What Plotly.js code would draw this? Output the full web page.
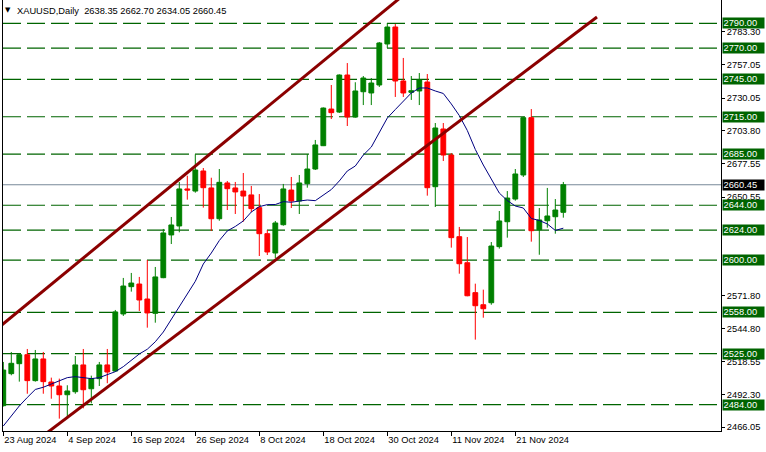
<!DOCTYPE html>
<html><head><meta charset="utf-8">
<script src="https://cdn.plot.ly/plotly-3.0.1.min.js"></script>
<style>html,body{margin:0;padding:0;background:#fff;}#chart{width:766px;height:452px;}</style>
</head><body><div id="chart"></div>
<script>
// ---- Data ----
const openP = [2483.2,2508.9,2516.9,2524.1,2503.3,2520.7,2502.2,2499.0,2492.0,2494.4,
  2515.9,2496.8,2504.9,2515.9,2511.0,2556.8,2578.7,2580.8,2568.8,2557.3,
  2585.9,2620.2,2627.4,2657.1,2655.4,2671.5,2657.9,2633.2,2661.9,2657.9,
  2655.4,2652.3,2642.1,2621.2,2605.7,2628.4,2656.2,2647.4,2661.3,2673.1,
  2691.8,2721.2,2718.8,2748.5,2714.8,2735.1,2734.1,2740.5,2773.4,2787.0,
  2743.7,2734.6,2735.7,2742.9,2658.9,2705.2,2684.3,2618.8,2597.9,2573.9,
  2564.2,2565.8,2610.8,2630.8,2649.0,2668.3,2714.3,2624.4,2631.6,2634.8,2638.35];
const highP = [2518.3,2526.3,2525.5,2528.7,2527.9,2526.3,2505.7,2504.9,2499.6,2523.1,
  2528.7,2507.3,2518.3,2528.7,2560.0,2585.7,2589.7,2586.5,2600.1,2594.5,
  2625.0,2634.6,2662.7,2667.7,2684.9,2673.9,2666.1,2673.1,2663.5,2662.7,
  2669.9,2659.5,2653.0,2624.2,2631.4,2661.1,2666.7,2668.3,2685.1,2696.4,
  2722.5,2740.5,2749.0,2758.1,2742.7,2747.7,2746.1,2775.0,2790.2,2789.4,
  2762.2,2747.7,2750.1,2749.3,2710.0,2710.0,2685.9,2626.6,2618.5,2581.1,
  2576.3,2614.5,2639.4,2655.4,2673.1,2715.0,2721.2,2641.8,2657.9,2649.0,2662.70];
const lowP = [2482.5,2507.6,2502.5,2492.8,2502.5,2492.8,2488.8,2472.8,2474.4,2492.8,
  2481.1,2485.1,2499.0,2501.2,2510.2,2555.2,2574.7,2559.2,2545.8,2549.8,
  2585.5,2612.9,2622.3,2648.5,2654.1,2642.1,2623.4,2631.6,2640.2,2637.0,
  2630.8,2638.6,2603.3,2604.1,2601.7,2627.6,2641.8,2637.0,2658.1,2672.3,
  2691.5,2713.2,2718.0,2707.6,2714.3,2724.4,2724.4,2738.9,2770.2,2730.9,
  2730.9,2728.5,2724.4,2651.7,2642.6,2679.5,2610.0,2589.1,2571.0,2536.2,
  2553.8,2564.2,2609.2,2618.0,2647.7,2666.7,2614.8,2604.3,2626.0,2621.2,2634.05];
const closeP = [2511.8,2517.2,2524.1,2503.3,2520.7,2502.5,2499.0,2492.0,2495.0,2515.9,
  2496.0,2504.9,2515.9,2510.2,2558.4,2579.2,2581.6,2568.0,2557.6,2586.5,
  2621.8,2628.2,2657.1,2656.2,2672.3,2658.1,2633.2,2662.4,2657.3,2654.7,
  2651.4,2641.3,2621.2,2606.5,2629.8,2657.1,2647.4,2661.9,2673.1,2692.4,
  2722.0,2718.3,2748.5,2714.8,2735.7,2746.1,2742.1,2774.2,2787.0,2743.7,
  2734.1,2735.9,2744.5,2658.1,2706.0,2684.3,2618.0,2597.1,2571.4,2563.4,
  2561.0,2611.3,2631.4,2649.8,2669.1,2714.3,2623.6,2632.2,2635.4,2640.2,2660.45];
const maLine = [2466.9,2474.9,2483.0,2489.8,2496.2,2498.0,2500.4,2503.3,2505.7,2506.5,
  2505.7,2504.9,2505.7,2508.1,2510.5,2514.5,2519.3,2524.7,2528.5,2534.5,
  2542.3,2552.4,2563.6,2572.6,2583.0,2596.9,2605.7,2615.7,2623.4,2627.0,
  2631.4,2638.6,2642.9,2644.5,2644.6,2646.9,2646.4,2647.4,2648.2,2647.7,
  2652.3,2656.6,2663.5,2671.5,2675.5,2684.3,2690.7,2702.4,2714.0,2720.8,
  2727.3,2734.1,2738.1,2738.1,2735.7,2733.7,2725.3,2716.0,2704.0,2688.8,
  2676.3,2665.1,2653.8,2647.8,2643.4,2641.8,2633.4,2631.8,2629.0,2623.8,2625.6];
const levels = [2790, 2770, 2745, 2715, 2685, 2644, 2624, 2600, 2558, 2525, 2484];
const lastPrice = 2660.45;
const yTickVals = [2783.30, 2757.05, 2730.05, 2703.80, 2677.55, 2650.55, 2571.80, 2544.80, 2518.55, 2492.30, 2466.05];
const xTickIdx = [0, 8, 16, 24, 32, 40, 48, 56, 64];
const xTickText = ['23 Aug 2024', '4 Sep 2024', '16 Sep 2024', '26 Sep 2024', '8 Oct 2024', '18 Oct 2024', '30 Oct 2024', '11 Nov 2024', '21 Nov 2024'];
const upperLineX = [-1, 50];
const upperLineY = [2543.7, 2812.5];
const lowerLineX = [5, 74.21];
const lowerLineY = [2459.2, 2795.05];
const titleText = 'XAUUSD,Daily  2638.35 2662.70 2634.05 2660.45';

// ---- Chart ----
const FONT = 'Liberation Sans, Arial, sans-serif';
const FS = 9.3;
const barIdx = openP.map((_, i) => i);

const traces = [
  {
    type: 'candlestick', x: barIdx, open: openP, high: highP, low: lowP, close: closeP,
    increasing: {line: {color: '#008000', width: 1}, fillcolor: '#008000'},
    decreasing: {line: {color: '#ff0000', width: 1}, fillcolor: '#ff0000'},
    whiskerwidth: 0, hoverinfo: 'skip', showlegend: false
  },
  {type: 'scatter', mode: 'lines', x: barIdx, y: maLine, line: {color: '#000080', width: 1}, hoverinfo: 'skip'},
  {type: 'scatter', mode: 'lines', x: upperLineX, y: upperLineY, line: {color: '#8b0000', width: 3}, hoverinfo: 'skip'},
  {type: 'scatter', mode: 'lines', x: lowerLineX, y: lowerLineY, line: {color: '#8b0000', width: 3}, hoverinfo: 'skip'}
];

const shapes = levels.map(lv => ({
  type: 'line', xref: 'paper', x0: 0, x1: 1, yref: 'y', y0: lv, y1: lv,
  line: {color: '#006400', width: 1.2, dash: '18px,6px'}, layer: 'below'
}));
shapes.push({type: 'line', xref: 'paper', x0: 0, x1: 1, yref: 'y', y0: lastPrice, y1: lastPrice,
  line: {color: '#778899', width: 1}, layer: 'below'});

const annotations = levels.map(lv => ({
  xref: 'paper', x: 1, xanchor: 'left', xshift: 1, yref: 'y', y: lv, yanchor: 'middle',
  text: lv.toFixed(2), showarrow: false, bgcolor: '#006400', width: 40, height: 9, borderpad: 0.5,
  font: {family: FONT, size: FS, color: '#ffffff'}, align: 'left'
}));
annotations.push({
  xref: 'paper', x: 1, xanchor: 'left', xshift: 1, yref: 'y', y: lastPrice, yanchor: 'middle',
  text: lastPrice.toFixed(2), showarrow: false, bgcolor: '#000000', width: 40, height: 9, borderpad: 0.5,
  font: {family: FONT, size: FS, color: '#ffffff'}, align: 'left'
});
annotations.push({
  xref: 'paper', x: 0, xanchor: 'left', xshift: 0, yref: 'paper', y: 1, yanchor: 'middle', yshift: -10,
  text: '▼', showarrow: false, font: {family: 'DejaVu Sans', size: 7, color: '#000'}
});
annotations.push({
  xref: 'paper', x: 0, xanchor: 'left', xshift: 12, yref: 'paper', y: 1, yanchor: 'middle', yshift: -10.5,
  text: titleText.replace(/ /g, '&nbsp;'), showarrow: false, font: {family: FONT, size: FS, color: '#000'}
});

const layout = {
  width: 766, height: 452,
  margin: {l: 3, r: 45, t: 0, b: 21, pad: 0},
  paper_bgcolor: '#ffffff', plot_bgcolor: '#ffffff',
  showlegend: false, hovermode: false,
  boxgap: 0.2, boxgroupgap: 0.25,
  xaxis: {
    range: [-0.0375, 89.71], showgrid: false, zeroline: false,
    showline: true, linecolor: '#000', linewidth: 1,
    ticks: 'outside', ticklen: 4, tickcolor: '#000', tickwidth: 1,
    tickvals: xTickIdx, ticktext: xTickText, ticklabelposition: 'outside right',
    tickfont: {family: FONT, size: FS, color: '#000'},
    rangeslider: {visible: false}, fixedrange: true
  },
  yaxis: {
    side: 'right', range: [2462.89, 2808.69], showgrid: false, zeroline: false,
    showline: true, mirror: true, linecolor: '#000', linewidth: 1,
    ticks: 'outside', ticklen: 3, tickcolor: '#000', tickwidth: 1,
    tickvals: yTickVals, ticktext: yTickVals.map(v => v.toFixed(2)),
    tickfont: {family: FONT, size: FS, color: '#000'}, fixedrange: true
  },
  shapes: shapes,
  annotations: annotations
};

Plotly.newPlot('chart', traces, layout, {staticPlot: true, displayModeBar: false});
</script>
</body></html>
